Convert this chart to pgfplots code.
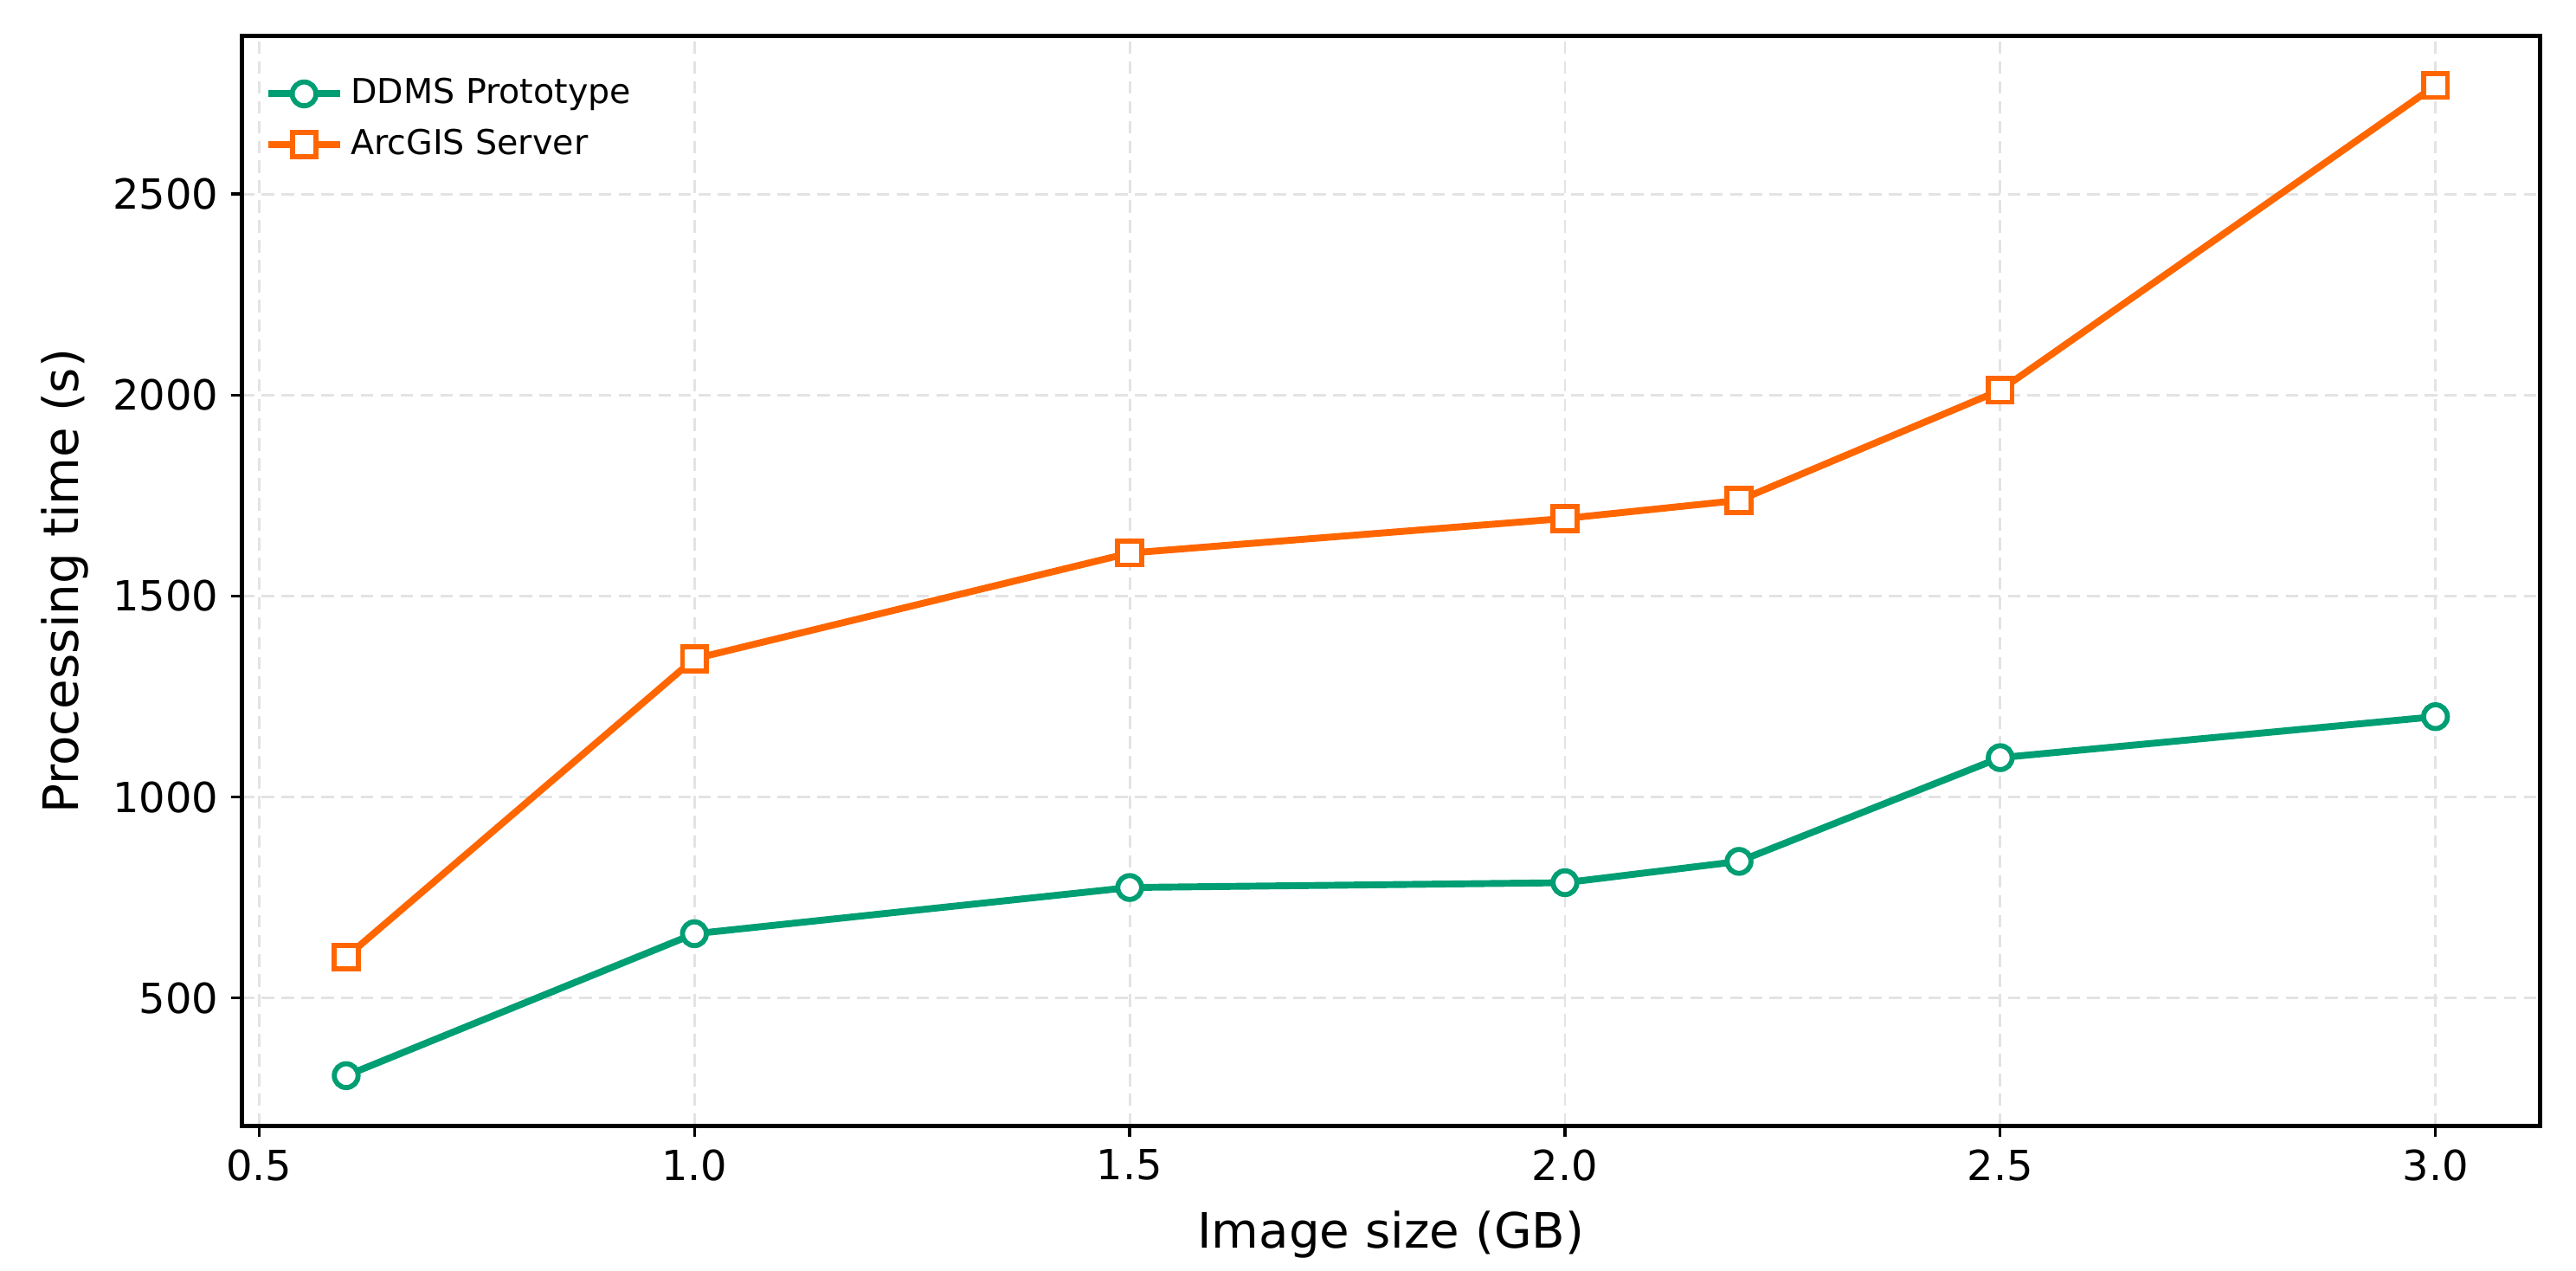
\documentclass[border=0pt]{standalone}
\usepackage{pgfplots}
\pgfplotsset{compat=1.18}
\usepackage{fontspec}
\setmainfont{DejaVu Sans}
\definecolor{ddms}{HTML}{009E73}
\definecolor{arcgis}{HTML}{FF6600}
\definecolor{gridc}{HTML}{E3E3E3}
\begin{document}
\begin{tikzpicture}
\begin{axis}[
  at={(0,0)}, anchor=south west,
  scale only axis, width=637pt, height=302pt,
  xmin=0.48, xmax=3.12, ymin=182, ymax=2893,
  xtick={0.5,1.0,1.5,2.0,2.5,3.0},
  xticklabels={0.5,1.0,1.5,2.0,2.5,3.0},
  ytick={500,1000,1500,2000,2500},
  /pgf/number format/assume math mode=true,
  /pgf/number format/1000 sep={},
  scaled ticks=false,
  tick label style={font=\fontsize{11.5}{13}\selectfont},
  label style={font=\fontsize{13.5}{16}\selectfont},
  xlabel={Image size (GB)},
  ylabel={Processing time (s)},
  xlabel style={at={(axis description cs:0.5,0)}, anchor=north, yshift=-20pt},
  ylabel style={at={(axis description cs:0,0.5)}, anchor=south, yshift=39pt},
  tick align=outside, major tick length=3pt,
  tick style={black, line width=0.8pt},
  xtick pos=bottom, ytick pos=left,
  axis line style={black, line width=1.2pt},
  grid=major,
  grid style={gridc, dash pattern=on 3.5pt off 2pt, line width=0.7pt},
  legend style={draw=none, fill=none, font=\fontsize{9.5}{12}\selectfont, row sep=1.5pt, at={(0.005,0.975)}, anchor=north west},
  legend cell align=left,
  legend image code/.code={
    \draw[#1, mark repeat=2, mark phase=2] plot coordinates {(0cm,0cm) (0.35cm,0cm) (0.7cm,0cm)};
  },
]
\addplot[ddms, line width=1.9pt, mark=*, mark size=3.3pt, mark options={fill=white, line width=1.4pt}]
  coordinates {(0.6,307) (1.0,660) (1.5,775) (2.0,787) (2.2,840) (2.5,1098) (3.0,1200)};
\addlegendentry{DDMS Prototype}
\addplot[arcgis, line width=1.9pt, mark=square*, mark size=3.3pt, mark options={fill=white, line width=1.4pt}]
  coordinates {(0.6,602) (1.0,1344) (1.5,1607) (2.0,1693) (2.2,1738) (2.5,2012) (3.0,2770)};
\addlegendentry{ArcGIS Server}
\end{axis}
\pgfresetboundingbox
\path[use as bounding box] (-67pt,-40pt) rectangle (647pt,312pt);
\end{tikzpicture}
\end{document}
